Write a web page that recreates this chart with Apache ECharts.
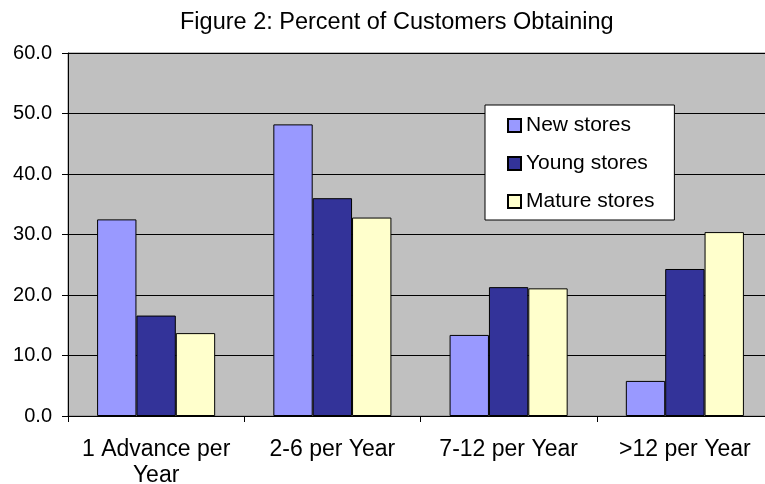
<!DOCTYPE html>
<html>
<head>
<meta charset="utf-8">
<script src="https://cdn.jsdelivr.net/npm/echarts@6/dist/echarts.min.js"></script>
<style>
html, body { margin: 0; padding: 0; background: #ffffff; }
#chart { width: 765px; height: 484px; }
</style>
</head>
<body>
<div id="chart"></div>
<script>
var categories = ['1 Advance per\nYear', '2-6 per Year', '7-12 per Year', '>12 per Year']
var newStores = [32.5, 48.2, 13.4, 5.8]
var youngStores = [16.6, 36.0, 21.3, 24.3]
var matureStores = [13.7, 32.8, 21.1, 30.4]
var seriesNames = ['New stores', 'Young stores', 'Mature stores']

var font = 'Liberation Sans, Arial, sans-serif'
var chart = echarts.init(document.getElementById('chart'))

function bar (name, data, color) {
  return {
    name: name,
    type: 'bar',
    data: data,
    barGap: '0%',
    barCategoryGap: '33%',
    itemStyle: { color: color, borderColor: '#000000', borderWidth: 1 },
    emphasis: { disabled: true }
  }
}

chart.setOption({
  animation: false,
  title: {
    text: 'Figure 2: Percent of Customers Obtaining',
    left: 180,
    top: 11,
    padding: 0,
    textStyle: { fontFamily: font, fontSize: 23.5, fontWeight: 'normal', color: '#000000' }
  },
  legend: {
    data: seriesNames,
    orient: 'vertical',
    left: 485,
    top: 105,
    padding: [10, 20, 8, 22],
    itemGap: 17,
    itemWidth: 13,
    itemHeight: 13,
    icon: 'rect',
    backgroundColor: '#ffffff',
    borderColor: '#000000',
    borderWidth: 1,
    textStyle: { fontFamily: font, fontSize: 21, color: '#000000' }
  },
  grid: {
    left: 68,
    right: -8,
    top: 53,
    bottom: 68,
    containLabel: false,
    outerBoundsMode: 'none',
    show: true,
    backgroundColor: '#c0c0c0',
    borderColor: '#808080',
    borderWidth: 1
  },
  xAxis: {
    type: 'category',
    data: categories,
    axisLine: { lineStyle: { color: '#000000', width: 1 } },
    axisTick: { show: true, length: 6, lineStyle: { color: '#000000' } },
    axisLabel: {
      fontFamily: font,
      fontSize: 23,
      color: '#000000',
      margin: 21,
      lineHeight: 26,
      interval: 0
    }
  },
  yAxis: {
    type: 'value',
    min: 0,
    max: 60,
    interval: 10,
    axisLine: { show: true, lineStyle: { color: '#000000', width: 1 } },
    axisTick: { show: true, length: 6, lineStyle: { color: '#000000' } },
    axisLabel: {
      fontFamily: font,
      fontSize: 20,
      color: '#000000',
      margin: 16,
      formatter: function (v) { return v.toFixed(1) }
    },
    splitLine: { show: true, lineStyle: { color: '#000000', width: 1 } }
  },
  series: [
    bar(seriesNames[0], newStores, '#9999ff'),
    bar(seriesNames[1], youngStores, '#333399'),
    bar(seriesNames[2], matureStores, '#ffffcc')
  ]
})
</script>
</body>
</html>
